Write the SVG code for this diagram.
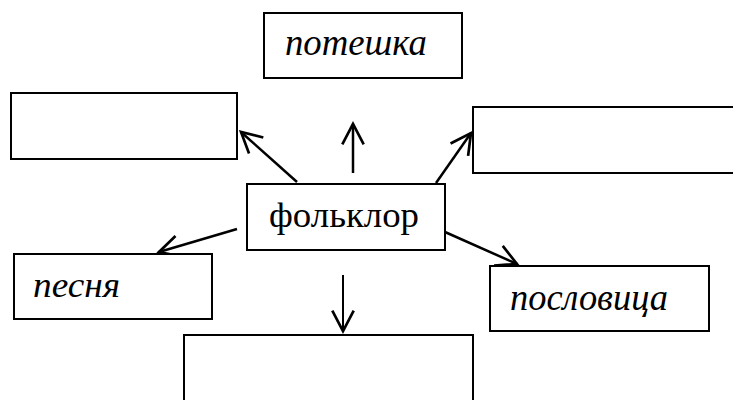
<svg xmlns="http://www.w3.org/2000/svg" width="733" height="400" viewBox="0 0 733 400">
<defs>
<style>
.box{fill:#fff;stroke:#000;stroke-width:2}
.t{font-family:"Liberation Serif","Times New Roman",serif;fill:#000}
.i{font-style:italic}
.c{fill:none;stroke:#000;stroke-width:2.5;marker-end:url(#ah)}
</style>
<marker id="ah" markerUnits="userSpaceOnUse" markerWidth="30" markerHeight="30" viewBox="-24 -14 28 28" refX="0" refY="0" orient="auto">
<path d="M-19 -10 L0 0 L-19 10" fill="none" stroke="#000" stroke-width="2.5" stroke-linejoin="miter"/>
</marker>
</defs>
<rect width="733" height="400" fill="#fff"/>
<g id="connectors">
<line class="c" x1="297" y1="182" x2="241" y2="132"/>
<line class="c" x1="353" y1="173" x2="353" y2="124"/>
<line class="c" x1="436" y1="183" x2="471" y2="133"/>
<line class="c" x1="237" y1="229" x2="159" y2="252"/>
<line class="c" x1="445" y1="232" x2="517" y2="264"/>
<line class="c" x1="343" y1="275" x2="343" y2="331" style="stroke-width:2"/>
</g>
<g id="node-poteshka">
<rect class="box" x="264" y="13" width="198" height="65"/>
<text class="t i" x="285" y="55" font-size="37" textLength="142" lengthAdjust="spacingAndGlyphs">потешка</text>
</g>
<g id="node-empty-left">
<rect class="box" x="11" y="93" width="226" height="66"/>
</g>
<g id="node-empty-right">
<rect class="box" x="473" y="107" width="265" height="66"/>
</g>
<g id="node-folklor">
<rect class="box" x="247" y="184" width="198" height="66"/>
<text class="t" x="269" y="227" font-size="35" textLength="150" lengthAdjust="spacingAndGlyphs">фольклор</text>
</g>
<g id="node-pesnya">
<rect class="box" x="14" y="254" width="198" height="65"/>
<text class="t i" x="33" y="297" font-size="36" textLength="87" lengthAdjust="spacingAndGlyphs">песня</text>
</g>
<g id="node-poslovitsa">
<rect class="box" x="490" y="266" width="219" height="65"/>
<text class="t i" x="510" y="310" font-size="37" textLength="158" lengthAdjust="spacingAndGlyphs">пословица</text>
</g>
<g id="node-empty-bottom">
<rect class="box" x="184" y="335" width="289" height="75"/>
</g>
</svg>
